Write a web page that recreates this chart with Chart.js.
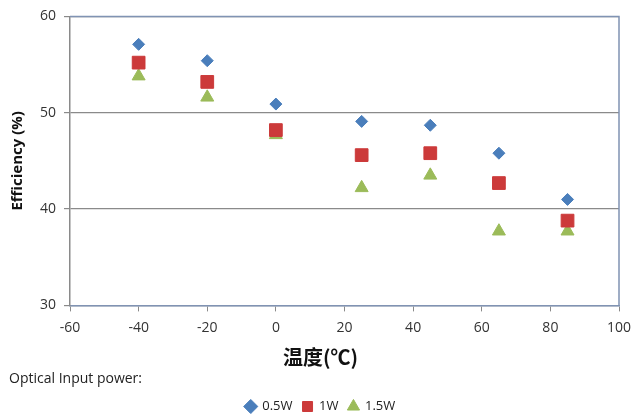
<!DOCTYPE html>
<html>
<head>
<meta charset="utf-8">
<script src="https://cdn.jsdelivr.net/npm/chart.js@4"></script>
<style>
    html, body { margin: 0; padding: 0; background: #fff; overflow: hidden; }
    #wrap { width: 632px; height: 423px; }
</style>
</head>
<body>
<div id="wrap"><canvas id="effChart"></canvas></div>
<script>
// temperature (°C) and efficiency (%) per optical input power
const temps = [-40, -20, 0, 25, 45, 65, 85];
const eff05W = [57.1, 55.4, 50.9, 49.1, 48.7, 45.8, 41.0];
const eff1W = [55.2, 53.2, 48.2, 45.6, 45.8, 42.7, 38.8];
const eff15W = [53.8, 51.6, 47.7, 42.2, 43.5, 37.7, 37.7];
const seriesNames = ['0.5W', '1W', '1.5W'];

function toPoints(values) {
    return temps.map((t, i) => ({ x: t, y: values[i] }));
}

// top and right frame of the plot area
const frameBorder = {
    id: 'frameBorder',
    afterDatasetsDraw(chart) {
        const a = chart.chartArea;
        const ctx = chart.ctx;
        ctx.save();
        ctx.strokeStyle = '#8093b3';
        ctx.lineWidth = 1.5;
        ctx.beginPath();
        ctx.moveTo(a.left, a.top);
        ctx.lineTo(a.right, a.top);
        ctx.lineTo(a.right, a.bottom);
        ctx.stroke();
        ctx.restore();
    }
};

const tickFont = { family: 'Open Sans', size: 14 };

document.addEventListener('DOMContentLoaded', function() {
    const ctx = document.getElementById('effChart').getContext('2d');
    new Chart(ctx, {
        type: 'scatter',
        data: {
            datasets: [{
                label: seriesNames[0],
                data: toPoints(eff05W),
                pointStyle: 'rectRot',
                pointRadius: 6,
                backgroundColor: '#4a7ebb',
                borderColor: '#4a7ebb'
            }, {
                label: seriesNames[1],
                data: toPoints(eff1W),
                pointStyle: 'rect',
                pointRadius: 9,
                backgroundColor: '#cc3a3a',
                borderColor: '#cc3a3a'
            }, {
                label: seriesNames[2],
                data: toPoints(eff15W),
                pointStyle: 'triangle',
                pointRadius: 7.5,
                backgroundColor: '#9bbb59',
                borderColor: '#9bbb59'
            }]
        },
        options: {
            responsive: true,
            maintainAspectRatio: false,
            animation: false,
            layout: {
                padding: { left: 9, right: 0, top: 15, bottom: 0 }
            },
            scales: {
                x: {
                    min: -60,
                    max: 100,
                    ticks: { stepSize: 20, color: '#333', font: tickFont, padding: 8 },
                    grid: { drawOnChartArea: false, color: '#8a8a8a', tickLength: 6 },
                    border: { color: '#8093b3', width: 1.5 },
                    afterFit(scale) {
                        // only leave room for half of the last label
                        scale.paddingRight = 13;
                    }
                },
                y: {
                    min: 30,
                    max: 60,
                    ticks: { stepSize: 10, color: '#333', font: tickFont, padding: 8 },
                    grid: { color: '#8a8a8a', lineWidth: 1.2, tickLength: 6 },
                    border: { color: '#8a8a8a', width: 1.5 },
                    title: {
                        display: true,
                        text: 'Efficiency (%)',
                        color: '#111',
                        font: { family: 'Open Sans', size: 15, weight: 'bold' },
                        padding: { top: 0, bottom: 5 }
                    }
                }
            },
            plugins: {
                title: {
                    display: true,
                    position: 'bottom',
                    weight: 500,
                    text: '温度(℃)',
                    color: '#111',
                    font: { family: 'Noto Sans CJK SC', size: 20, weight: 'bold' },
                    padding: { top: 1, bottom: 0 }
                },
                subtitle: {
                    display: true,
                    position: 'bottom',
                    align: 'start',
                    weight: 800,
                    text: 'Optical Input power:',
                    color: '#222',
                    font: { family: 'Open Sans', size: 14 },
                    padding: { top: 1, bottom: 3 }
                },
                legend: {
                    position: 'bottom',
                    align: 'center',
                    labels: {
                        usePointStyle: true,
                        boxWidth: 10,
                        boxHeight: 10,
                        padding: 10,
                        color: '#222',
                        font: { family: 'Open Sans', size: 13 }
                    }
                },
                tooltip: { enabled: false }
            }
        },
        plugins: [frameBorder]
    });
});
</script>
</body>
</html>
